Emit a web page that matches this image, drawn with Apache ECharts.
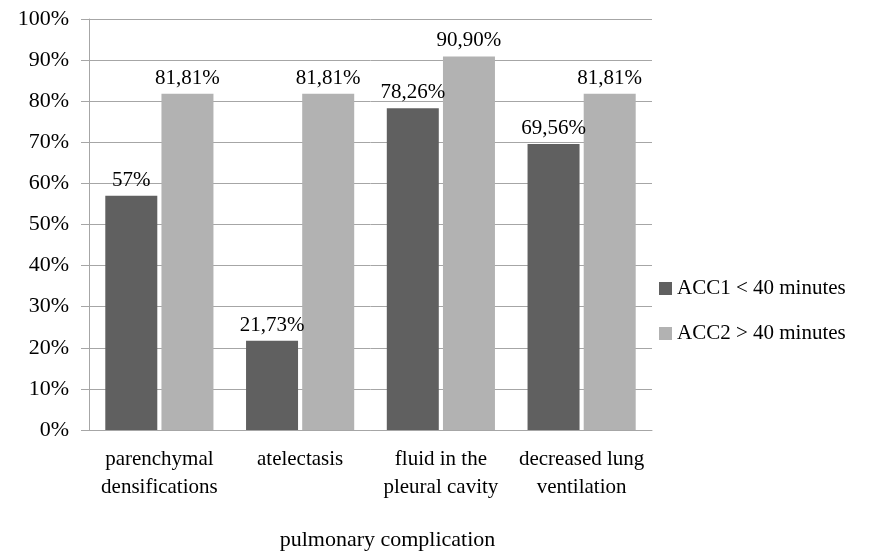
<!DOCTYPE html>
<html>
<head>
<meta charset="utf-8">
<script src="https://cdn.jsdelivr.net/npm/echarts@6/dist/echarts.min.js"></script>
<style>
html,body{margin:0;padding:0;background:#fff;}
#chart{width:870px;height:553px;}
</style>
</head>
<body>
<div id="chart"></div>
<script>
// Pulmonary complications by anaesthesia duration group
const categories = ['parenchymal\ndensifications', 'atelectasis', 'fluid in the\npleural cavity', 'decreased lung\nventilation'];
const acc1Values = [57, 21.73, 78.26, 69.56];
const acc2Values = [81.81, 81.81, 90.90, 81.81];
const seriesNames = ['ACC1 < 40 minutes', 'ACC2 > 40 minutes'];
const yTicks = [0, 10, 20, 30, 40, 50, 60, 70, 80, 90, 100];

const FONT = '"Liberation Serif", "Times New Roman", serif';
const GRID_COLOR = '#a6a6a6';

function pct(v) {
  const s = Number.isInteger(v) ? String(v) : v.toFixed(2);
  return s.replace('.', ',') + '%';
}

const chart = echarts.init(document.getElementById('chart'));
chart.setOption({
  animation: false,
  backgroundColor: '#fff',
  textStyle: { fontFamily: FONT, color: '#000' },
  grid: { left: 89, right: 218, top: 19, bottom: 123, containLabel: false, outerBoundsMode: 'none' },
  legend: {
    orient: 'vertical',
    left: 654,
    top: 273,
    itemWidth: 13,
    itemHeight: 13,
    itemGap: 24,
    icon: 'rect',
    textStyle: { fontFamily: FONT, fontSize: 21, color: '#000' },
    data: seriesNames
  },
  xAxis: {
    type: 'category',
    data: categories,
    name: 'pulmonary complication',
    nameLocation: 'middle',
    nameGap: 99,
    nameTextStyle: { fontFamily: FONT, fontSize: 22, color: '#000', padding: [0, 0, 0, 34] },
    axisLine: { lineStyle: { color: GRID_COLOR, width: 1 } },
    axisTick: { show: false },
    axisLabel: { fontFamily: FONT, fontSize: 21, color: '#000', margin: 15, lineHeight: 28, interval: 0 }
  },
  yAxis: {
    type: 'value',
    min: yTicks[0],
    max: yTicks[yTicks.length - 1],
    interval: 10,
    axisLine: { show: true, lineStyle: { color: GRID_COLOR, width: 1 } },
    axisTick: { show: true, length: 8, lineStyle: { color: GRID_COLOR } },
    splitLine: { lineStyle: { color: GRID_COLOR, width: 1 } },
    axisLabel: { fontFamily: FONT, fontSize: 22, color: '#000', margin: 20, formatter: v => v + '%' }
  },
  series: [
    {
      name: seriesNames[0],
      type: 'bar',
      data: acc1Values,
      barWidth: 52,
      barGap: '8%',
      itemStyle: { color: '#606060' },
      label: { show: true, position: 'top', distance: 5, fontFamily: FONT, fontSize: 21, color: '#000', formatter: p => pct(p.value) }
    },
    {
      name: seriesNames[1],
      type: 'bar',
      data: acc2Values,
      barWidth: 52,
      barGap: '8%',
      itemStyle: { color: '#b2b2b2' },
      label: { show: true, position: 'top', distance: 5, fontFamily: FONT, fontSize: 21, color: '#000', formatter: p => pct(p.value) }
    }
  ]
});
</script>
</body>
</html>
